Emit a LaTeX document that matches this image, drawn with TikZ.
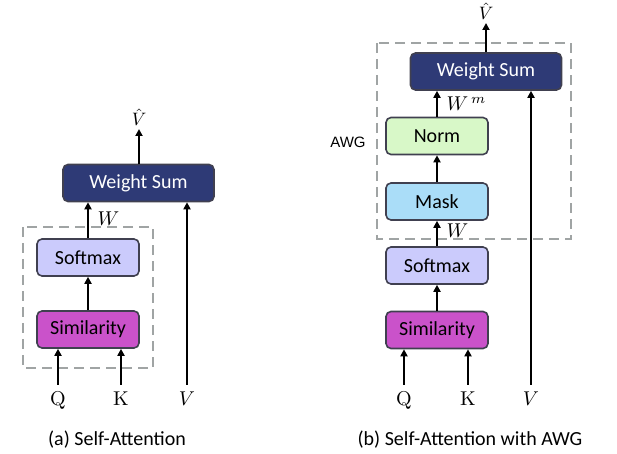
\documentclass[tikz,border=0pt]{standalone}
\usepackage[no-math]{fontspec}
\setmainfont{Carlito}
\newfontfamily\awgfont{Liberation Sans}
\usetikzlibrary{arrows.meta}

\definecolor{wsum}{HTML}{2E3A76}
\definecolor{softm}{HTML}{CBCBFC}
\definecolor{simil}{HTML}{CA52CA}
\definecolor{normc}{HTML}{D8F8C8}
\definecolor{maskc}{HTML}{AADDF8}
\definecolor{edgec}{HTML}{404050}
\definecolor{dashc}{HTML}{A0A4A4}

\tikzset{
	block/.style={draw=edgec, line width=0.8pt, rounded corners=2.5pt,
		minimum width=51pt, minimum height=18.5pt, inner sep=0pt},
	wide/.style={block, fill=wsum, text=white, minimum width=75.5pt},
	flow/.style={-{Triangle[length=3.5pt,width=3.5pt]}, line width=1pt},
	group/.style={draw=dashc, line width=0.9pt, dash pattern=on 5pt off 3pt},
	inlbl/.style={inner sep=3pt, anchor=north},
	outlbl/.style={inner sep=1.5pt, anchor=south, scale=0.9}
}

\begin{document}
\begin{tikzpicture}[x=0.5pt, y=-0.5pt]
	\useasboundingbox (0, 0) rectangle (617, 454);
	% (a) self-attention
	\draw[group] (23, 227) rectangle (153, 368);
	\node[wide] (ws1) at (138.5, 183) {Weight Sum};
	\node[block, fill=softm] (sm1) at (88, 257.5) {Softmax};
	\node[block, fill=simil] (si1) at (88, 329.5) {Similarity};
	\node[inlbl] (q1) at (58, 385) {$\mathrm{Q}$};
	\node[inlbl] (k1) at (121, 385) {$\mathrm{K}$};
	\node[inlbl] (v1) at (187, 385) {$V$};
	\node[outlbl] (vh1) at (139, 129) {$\hat{V}$};
	\draw[flow] (q1.north) -- (q1.north |- si1.south);
	\draw[flow] (k1.north) -- (k1.north |- si1.south);
	\draw[flow] (si1) -- (sm1);
	\draw[flow] (sm1.north) -- (sm1.north |- ws1.south) node[midway, right=1pt, yshift=1pt] (w1) {$W$};
	\draw[flow] (v1.north) -- (v1.north |- ws1.south);
	\draw[flow] (ws1.north -| vh1) -- (vh1.south);
	\node (capa) at (117, 440) {(a) Self-Attention};
	% (b) self-attention with AWG
	\draw[group] (377, 43) rectangle (571, 239);
	\node[font=\awgfont\fontsize{7.5}{9}\selectfont] (awg) at (348, 142) {AWG};
	\node[wide] (ws2) at (486, 71.5) {Weight Sum};
	\node[block, fill=normc] (no2) at (437, 136) {Norm};
	\node[block, fill=maskc] (ma2) at (437, 201.5) {Mask};
	\node[block, fill=softm] (sm2) at (437, 265.5) {Softmax};
	\node[block, fill=simil] (si2) at (437, 330) {Similarity};
	\node[inlbl] (q2) at (404, 385) {$\mathrm{Q}$};
	\node[inlbl] (k2) at (468, 385) {$\mathrm{K}$};
	\node[inlbl] (v2) at (531, 385) {$V$};
	\node[outlbl] (vh2) at (486, 23) {$\hat{V}$};
	\draw[flow] (q2.north) -- (q2.north |- si2.south);
	\draw[flow] (k2.north) -- (k2.north |- si2.south);
	\draw[flow] (si2) -- (sm2);
	\draw[flow] (sm2) -- (ma2) node[midway, right=1pt, yshift=1.5pt] (w2) {$W$};
	\draw[flow] (ma2) -- (no2);
	\draw[flow] (no2.north) -- (no2.north |- ws2.south) node[midway, right=1pt, yshift=0pt] (wm2) {$W^{\,m}$};
	\draw[flow] (v2.north) -- (v2.north |- ws2.south);
	\draw[flow] (ws2.north -| vh2) -- (vh2.south);
	\node (capb) at (470, 440) {(b) Self-Attention with AWG};
\end{tikzpicture}
\end{document}
